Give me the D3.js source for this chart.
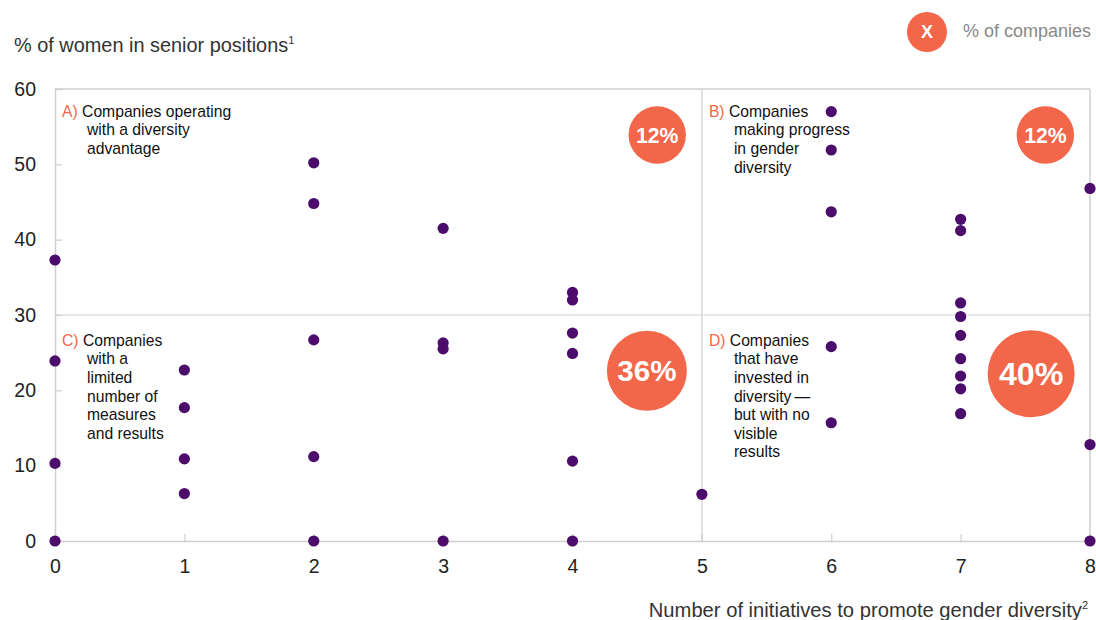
<!DOCTYPE html>
<html>
<head>
<meta charset="utf-8">
<script src="https://cdn.jsdelivr.net/npm/d3@7"></script>
<style>
  body { margin: 0; background: #fff; }
  svg { display: block; font-family: "Liberation Sans", Arial, Helvetica, sans-serif; }
</style>
</head>
<body>
<svg id="chart" width="1096" height="620"></svg>
<script>
// number of initiatives (x) and share of women in senior positions (y), one entry per company
var initiatives = [0,0,0,0, 1,1,1,1, 2,2,2,2,2, 3,3,3,3, 4,4,4,4,4,4, 5, 6,6,6,6,6, 7,7,7,7,7,7,7,7,7, 8,8,8];
var womenShare  = [37.3,23.9,10.3,0, 22.7,17.7,10.9,6.3, 50.2,44.8,26.7,11.2,0, 41.5,26.3,25.5,0,
                   33.0,32.0,27.6,24.9,10.6,0, 6.2, 57.0,51.9,43.7,25.8,15.7,
                   42.7,41.2,31.6,29.8,27.3,24.2,21.9,20.2,16.9, 46.8,12.8,0];

var xTicks = [0,1,2,3,4,5,6,7,8];
var yTicks = [0,10,20,30,40,50,60];

// quadrants
var quadrantKeys  = ["A)", "B)", "C)", "D)"];
var quadrantLines = [
  ["Companies operating", "with a diversity", "advantage"],
  ["Companies", "making progress", "in gender", "diversity"],
  ["Companies", "with a", "limited", "number of", "measures", "and results"],
  ["Companies", "that have", "invested in", "diversity\u2009\u2014", "but with no", "visible", "results"]
];
var quadrantShare = [12, 12, 36, 40];
// where each quadrant's label and bubble sit, in data units
var labelAtX  = [0, 5, 0, 5];
var labelAtY  = [56.3, 56.3, 25.9, 25.9];
var bubbleAtX = [4.655, 7.655, 4.575, 7.545];
var bubbleAtY = [53.9, 53.9, 22.6, 22.2];

var svg = d3.select("#chart");
var orange = "#f26649", purple = "#4b0c6b", grid = "#cfcfcf";

var x = d3.scaleLinear().domain([0, 8]).range([55, 1090]);
var y = d3.scaleLinear().domain([0, 60]).range([541, 89]);
var r = d3.scaleLinear().domain([12, 36, 40]).range([28.7, 40, 43.5]);

// frame + ticks
var xAxis = svg.append("g").attr("transform", "translate(0," + y(0) + ")")
  .call(d3.axisBottom(x).tickValues(xTicks).tickSize(-7).tickPadding(20).tickFormat(d3.format("d")));
var yAxis = svg.append("g").attr("transform", "translate(" + x(0) + ",0)")
  .call(d3.axisLeft(y).tickValues(yTicks).tickSize(-7).tickPadding(19));
[xAxis, yAxis].forEach(function(a){
  a.select(".domain").attr("stroke", grid).attr("stroke-width", 1.5);
  a.selectAll(".tick line").attr("stroke", grid).attr("stroke-width", 1.2);
  a.selectAll(".tick text").attr("fill", "#222").style("font-size", "19.5px").style("font-family", "inherit");
});
xAxis.selectAll(".tick text").attr("dy", "0.6em");

svg.append("line").attr("x1", x(0)).attr("x2", x(8)).attr("y1", y(60)).attr("y2", y(60))
  .attr("stroke", grid).attr("stroke-width", 1.5);
svg.append("line").attr("x1", x(8)).attr("x2", x(8)).attr("y1", y(60)).attr("y2", y(0))
  .attr("stroke", grid).attr("stroke-width", 1.5);
svg.append("line").attr("x1", x(5)).attr("x2", x(5)).attr("y1", y(60)).attr("y2", y(0))
  .attr("stroke", grid).attr("stroke-width", 1.2);
svg.append("line").attr("x1", x(0)).attr("x2", x(8)).attr("y1", y(30)).attr("y2", y(30))
  .attr("stroke", grid).attr("stroke-width", 1.2);

// bubbles with share of companies
var bubbles = svg.append("g").selectAll("g")
  .data(quadrantShare).enter().append("g")
  .attr("transform", function(d, i){ return "translate(" + x(bubbleAtX[i]) + "," + y(bubbleAtY[i]) + ")"; });
bubbles.append("circle").attr("r", function(d){ return r(d); }).attr("fill", orange);
bubbles.append("text")
  .attr("text-anchor", "middle").attr("dy", "0.36em")
  .attr("fill", "#fff").attr("font-weight", "bold")
  .style("font-size", function(d){ return (r(d) * 0.74) + "px"; })
  .text(function(d){ return d + "%"; });

// quadrant labels
quadrantKeys.forEach(function(k, i){
  var t = svg.append("text")
    .attr("x", x(labelAtX[i]) + 7).attr("y", y(labelAtY[i]))
    .style("font-size", "15.7px").attr("fill", "#111");
  t.append("tspan").attr("fill", orange).text(k + " ");
  t.append("tspan").text(quadrantLines[i][0]);
  quadrantLines[i].slice(1).forEach(function(line, j){
    svg.append("text")
      .attr("x", x(labelAtX[i]) + 32).attr("y", y(labelAtY[i]) + 18.6 * (j + 1))
      .style("font-size", "15.7px").attr("fill", "#111")
      .text(line);
  });
});

// points
svg.append("g").selectAll("circle")
  .data(initiatives).enter().append("circle")
  .attr("cx", function(d){ return x(d); })
  .attr("cy", function(d, i){ return y(womenShare[i]); })
  .attr("r", 5.6)
  .attr("fill", purple);

// titles
var yt = svg.append("text").attr("x", 14).attr("y", 52).attr("fill", "#333").style("font-size", "19.9px");
yt.append("tspan").text("% of women in senior positions");
yt.append("tspan").attr("dy", -8).style("font-size", "11px").text("1");

var xt = svg.append("text").attr("x", 1088).attr("y", 617).attr("text-anchor", "end")
  .attr("fill", "#333").style("font-size", "20.2px");
xt.append("tspan").text("Number of initiatives to promote gender diversity");
xt.append("tspan").attr("dy", -8).style("font-size", "11px").text("2");

// legend
svg.append("circle").attr("cx", 927).attr("cy", 32).attr("r", 20).attr("fill", orange);
svg.append("text").attr("x", 927).attr("y", 32).attr("dy", "0.36em").attr("text-anchor", "middle")
  .attr("fill", "#fff").attr("font-weight", "bold").style("font-size", "18px").text("X");
svg.append("text").attr("x", 963).attr("y", 37).attr("fill", "#888").style("font-size", "18px")
  .text("% of companies");
</script>
</body>
</html>
